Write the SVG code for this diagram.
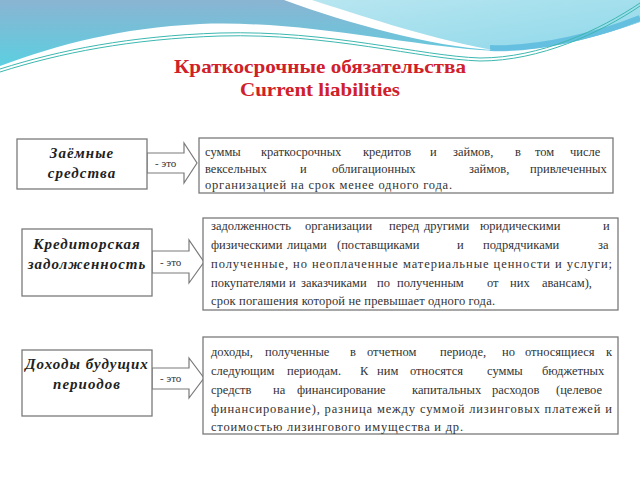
<svg xmlns="http://www.w3.org/2000/svg" width="640" height="480" viewBox="0 0 640 480">
<defs>
<linearGradient id="gL" x1="0" y1="0" x2="0" y2="1">
<stop offset="0" stop-color="#8ab4d2"/>
<stop offset="1" stop-color="#5ccfe0"/>
</linearGradient>
<linearGradient id="gR" x1="0" y1="0" x2="1" y2="1">
<stop offset="0" stop-color="#b8e6f0"/>
<stop offset="1" stop-color="#8fd8ea"/>
</linearGradient>
<style>
.box{fill:#fff;stroke:#7a7a7a;stroke-width:1.3}
.arr{fill:#fff;stroke:#7a7a7a;stroke-width:1.2}
text{font-family:'Liberation Serif','Times New Roman',Times,serif}
.lbl{font-weight:bold;font-style:italic;font-size:15px;fill:#222;letter-spacing:1px;text-anchor:middle}
.txt{font-size:12.5px;fill:#333}
.eto{font-size:11px;fill:#333}
.ttl{font-weight:bold;font-size:19px;fill:#d0202a;text-anchor:middle}
.wl{fill:none;stroke:#3cb8b0;stroke-width:1}
</style>
</defs>
<rect width="640" height="480" fill="#fff"/>
<g id="background">
<path d="M0,0 H640 V22 C600,36 540,54 480,50 C400,44 300,20 200,24 C120,28 60,44 0,66 Z" fill="url(#gL)"/>
<path d="M310,0 H640 V22 C600,36 540,54 490,50 C420,38 360,15 310,0 Z" fill="url(#gR)"/>
<path d="M640,18 C600,34 540,50 490,48" fill="none" stroke="#4fb4dc" stroke-width="6" opacity="0.7"/>
<path d="M284,0 H312 C360,15 420,36 492,50 C430,46 350,24 284,0 Z" fill="#fff"/>
<path class="wl" d="M0,69 C60,50 130,36 220,33 C330,30 420,56 480,58 C540,58 600,30 640,3"/>
<path class="wl" d="M0,72 C60,53 130,39 220,36 C330,33 420,59 480,61 C540,61 600,33 640,6"/>
</g>
<g id="title">
<text class="ttl" x="320" y="73" textLength="292" lengthAdjust="spacingAndGlyphs">Краткосрочные обязательства</text>
<text class="ttl" x="320" y="96" textLength="160" lengthAdjust="spacingAndGlyphs">Current liabilities</text>
</g>
<g id="connectors">
<polygon class="arr" points="147,153 184,153 184,143 197,163 184,183 184,173 147,173"/>
<text class="eto" x="155" y="167">- это</text>
<polygon class="arr" points="152,251 189,251 189,240 204,262 189,283 189,273 152,273"/>
<text class="eto" x="160" y="266">- это</text>
<polygon class="arr" points="152,368 189,368 189,358 204,378 189,398 189,389 152,389"/>
<text class="eto" x="160" y="382">- это</text>
</g>
<g id="node1">
<rect class="box" x="17" y="139" width="130" height="50"/>
<text class="lbl" x="82" y="158">Заёмные</text>
<text class="lbl" x="82" y="178">средства</text>
</g>
<g id="def1">
<rect class="box" x="199" y="138" width="414" height="55"/>
<text class="txt" y="156"><tspan x="205">суммы</tspan><tspan x="261">краткосрочных</tspan><tspan x="363">кредитов</tspan><tspan x="430">и</tspan><tspan x="453">займов,</tspan><tspan x="515">в</tspan><tspan x="535">том</tspan><tspan x="570">числе</tspan></text>
<text class="txt" y="173"><tspan x="205">вексельных</tspan><tspan x="300">и</tspan><tspan x="332">облигационных</tspan><tspan x="469">займов,</tspan><tspan x="530">привлеченных</tspan></text>
<text class="txt" x="205" y="189" textLength="247" lengthAdjust="spacing">организацией на срок менее одного года.</text>
</g>
<g id="node2">
<rect class="box" x="22" y="229" width="130" height="67"/>
<text class="lbl" x="87" y="249">Кредиторская</text>
<text class="lbl" x="87" y="269">задолженность</text>
</g>
<g id="def2">
<rect class="box" x="203" y="218" width="415" height="92"/>
<text class="txt" y="230"><tspan x="211">задолженность</tspan><tspan x="305">организации</tspan><tspan x="389">перед</tspan><tspan x="424">другими</tspan><tspan x="480">юридическими</tspan><tspan x="603">и</tspan></text>
<text class="txt" y="249"><tspan x="211">физическими</tspan><tspan x="287">лицами</tspan><tspan x="337">(поставщиками</tspan><tspan x="457">и</tspan><tspan x="483">подрядчиками</tspan><tspan x="598">за</tspan></text>
<text class="txt" x="211" y="268" textLength="401" lengthAdjust="spacing">полученные, но неоплаченные материальные ценности и услуги;</text>
<text class="txt" y="287"><tspan x="211">покупателями</tspan><tspan x="289">и</tspan><tspan x="301">заказчиками</tspan><tspan x="377">по</tspan><tspan x="397">полученным</tspan><tspan x="487">от</tspan><tspan x="510">них</tspan><tspan x="542">авансам),</tspan></text>
<text class="txt" x="211" y="305" textLength="284" lengthAdjust="spacing">срок погашения которой не превышает одного года.</text>
</g>
<g id="node3">
<rect class="box" x="22" y="350" width="130" height="66"/>
<text class="lbl" x="87" y="369">Доходы будущих</text>
<text class="lbl" x="87" y="389">периодов</text>
</g>
<g id="def3">
<rect class="box" x="203" y="337" width="415" height="97"/>
<text class="txt" y="356"><tspan x="211">доходы,</tspan><tspan x="265">полученные</tspan><tspan x="350">в</tspan><tspan x="367">отчетном</tspan><tspan x="440">периоде,</tspan><tspan x="502">но</tspan><tspan x="525">относящиеся</tspan><tspan x="606">к</tspan></text>
<text class="txt" y="375"><tspan x="211">следующим</tspan><tspan x="287">периодам.</tspan><tspan x="360">К</tspan><tspan x="377">ним</tspan><tspan x="410">относятся</tspan><tspan x="487">суммы</tspan><tspan x="542">бюджетных</tspan></text>
<text class="txt" y="394"><tspan x="211">средств</tspan><tspan x="273">на</tspan><tspan x="297">финансирование</tspan><tspan x="412">капитальных</tspan><tspan x="492">расходов</tspan><tspan x="556">(целевое</tspan></text>
<text class="txt" x="211" y="413" textLength="401" lengthAdjust="spacing">финансирование), разница между суммой лизинговых платежей и</text>
<text class="txt" x="211" y="431" textLength="252" lengthAdjust="spacing">стоимостью лизингового имущества и др.</text>
</g>
</svg>
